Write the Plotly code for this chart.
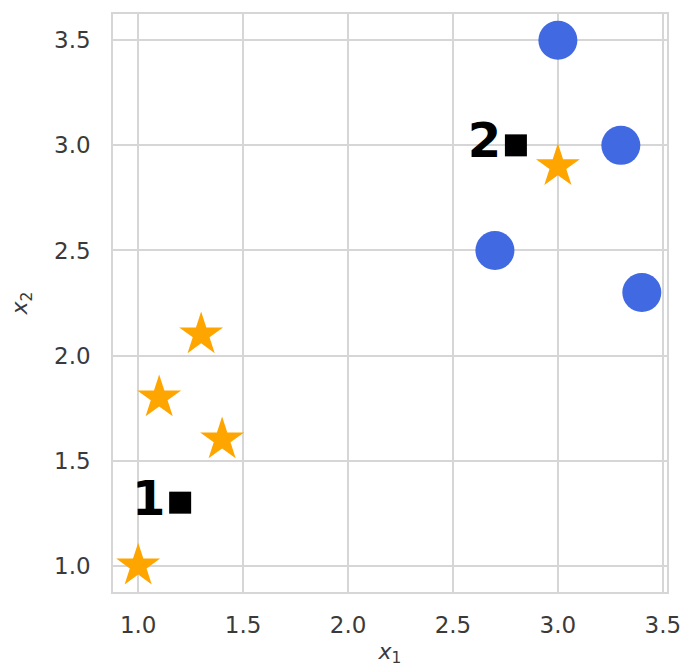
import plotly.graph_objects as go

star_x = [1.0, 1.1, 1.3, 1.4, 3.0]
star_y = [1.0, 1.8, 2.1, 1.6, 2.9]
circ_x = [3.0, 3.3, 2.7, 3.4]
circ_y = [3.5, 3.0, 2.5, 2.3]
sq_x = [1.2, 2.8]
sq_y = [1.3, 3.0]
sq_labels = ["1", "2"]

fig = go.Figure()
fig.add_trace(go.Scatter(x=star_x, y=star_y, mode="markers",
                         marker=dict(symbol="star", size=33, color="#FFA500", line=dict(width=0))))
fig.add_trace(go.Scatter(x=circ_x, y=circ_y, mode="markers",
                         marker=dict(symbol="circle", size=39, color="#4169E1", line=dict(width=0))))
fig.add_trace(go.Scatter(x=sq_x, y=sq_y, mode="markers+text",
                         marker=dict(symbol="square", size=22, color="black"),
                         text=sq_labels, textposition="middle left",
                         textfont=dict(family="DejaVu Sans", size=48, color="black", weight="bold")))

axis_common = dict(showgrid=True, gridcolor="#d6d6d6", gridwidth=1.5, zeroline=False,
                   showline=True, linecolor="#d6d6d6", linewidth=1.5, mirror=True,
                   ticks="", tickfont=dict(family="DejaVu Sans", size=23, color="#3a3a3a"),
                   tickformat=".1f", dtick=0.5, automargin=False)
fig.update_layout(
    width=689, height=671,
    margin=dict(l=113, r=22, t=14, b=79),
    plot_bgcolor="white", paper_bgcolor="white",
    showlegend=False,
    xaxis=dict(range=[0.88, 3.52], tick0=1.0, ticklabelstandoff=12,
               title=dict(text="<i>x</i><sub>1</sub>", font=dict(family="DejaVu Sans", size=22, color="#3a3a3a"), standoff=6),
               **axis_common),
    yaxis=dict(range=[0.875, 3.625], tick0=1.0, ticklabelstandoff=16,
               title=dict(text="<i>x</i><sub>2</sub>", font=dict(family="DejaVu Sans", size=22, color="#3a3a3a"), standoff=20),
               **axis_common),
)
fig.write_html("out.html")
